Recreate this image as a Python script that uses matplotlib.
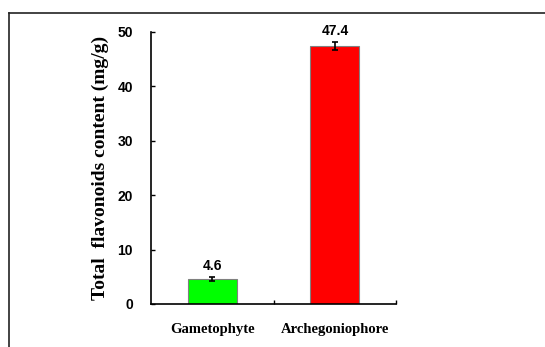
import numpy as np
import matplotlib.pyplot as plt
from matplotlib.lines import Line2D

categories = ['Gametophyte', 'Archegoniophore']
values = [4.6, 47.4]
errors = [0.35, 0.75]
colors = ['#00ff00', '#ff0000']
yticks = [0, 10, 20, 30, 40, 50]

plt.rcParams['font.family'] = ['Liberation Serif', 'DejaVu Serif']
plt.rcParams['font.weight'] = 'bold'

fig = plt.figure(figsize=(5.45, 3.47), dpi=100)
ax = fig.add_axes([0.277, 0.124, 0.450, 0.784])

x = np.arange(len(categories))
ax.bar(x, values, width=0.4, color=colors, edgecolor='#808080', linewidth=0.8,
       yerr=errors, capsize=2.5, error_kw=dict(ecolor='black', elinewidth=1.2, capthick=1.2))

for xi, v, e in zip(x, values, errors):
    ax.annotate(f'{v}', (xi, v + e), xytext=(0, 3), textcoords='offset points',
                ha='center', va='bottom', fontsize=10, fontweight='bold',
                family=['Liberation Sans', 'DejaVu Sans'])

ax.set_xlim(-0.5, 1.5)
ax.set_ylim(0, 50)
ax.set_yticks(yticks)
ax.set_xticks(x)
ax.set_xticklabels(categories, fontsize=10.5, fontweight='bold')
ax.set_xticks([0.5, 1.5], minor=True)
ax.tick_params(axis='x', which='major', length=0, pad=14)
ax.tick_params(axis='x', which='minor', direction='in', length=3, width=1)
ax.tick_params(axis='y', direction='in', length=3, width=1, pad=13, labelsize=10)
for lbl in ax.get_yticklabels():
    lbl.set_fontweight('bold')
    lbl.set_family(['Liberation Sans', 'DejaVu Sans'])

ax.set_ylabel('Total  flavonoids content (mg/g)', fontsize=14, fontweight='bold')
ax.yaxis.set_label_coords(-0.17, 0.5)

ax.spines['top'].set_visible(False)
ax.spines['right'].set_visible(False)
ax.spines['left'].set_linewidth(1.2)
ax.spines['bottom'].set_linewidth(1.2)

# outer frame, clipped at right and bottom edges
fig.add_artist(Line2D([9 / 545, 9 / 545], [0, 1 - 13 / 347], color='#222222', lw=1.2, transform=fig.transFigure))
fig.add_artist(Line2D([9 / 545, 1], [1 - 13 / 347, 1 - 13 / 347], color='#222222', lw=1.2, transform=fig.transFigure))

fig.savefig('out.png', dpi=100)
